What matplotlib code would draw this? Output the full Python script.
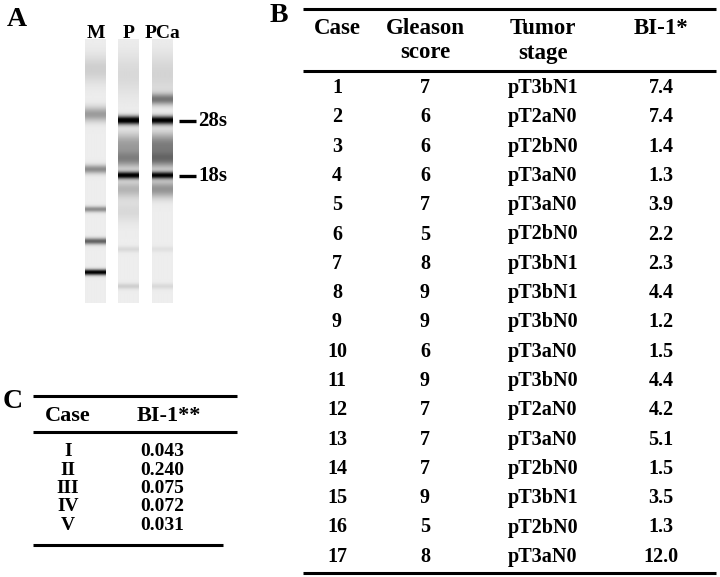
import matplotlib
matplotlib.use("Agg")
import matplotlib.pyplot as plt
import numpy as np

plt.rcParams["font.family"] = ["Liberation Serif", "DejaVu Serif"]
plt.rcParams["font.weight"] = "bold"

# panel A: capillary gel lanes (band centre in px from top, darkness, spread)
lane_names = ["M", "P", "PCa"]
m_centres = [70, 115, 170, 210, 242, 273]
m_dark = [0.12, 0.32, 0.38, 0.38, 0.55, 0.95]
m_width = [10, 5, 3, 2, 2.2, 2]
p_centres = [75, 121, 145, 160, 176, 190, 212, 250, 287]
p_dark = [0.08, 1.0, 0.3, 0.38, 0.95, 0.22, 0.08, 0.08, 0.12]
p_width = [15, 3, 8, 6, 2.5, 6, 8, 2, 2]
pca_centres = [75, 100, 121, 145, 160, 176, 190, 250, 287]
pca_dark = [0.1, 0.45, 0.95, 0.42, 0.45, 0.9, 0.35, 0.05, 0.08]
pca_width = [15, 4, 3, 8, 6, 2.5, 6, 2, 2]
marker_names = ["28s", "18s"]
marker_pos = [121, 176]

# panel B
cases = [str(i) for i in range(1, 18)]
gleason = ["7", "6", "6", "6", "7", "5", "8", "9", "9", "6", "9", "7", "7", "7", "9", "5", "8"]
stage = ["pT3bN1", "pT2aN0", "pT2bN0", "pT3aN0", "pT3aN0", "pT2bN0", "pT3bN1",
         "pT3bN1", "pT3bN0", "pT3aN0", "pT3bN0", "pT2aN0", "pT3aN0", "pT2bN0",
         "pT3bN1", "pT2bN0", "pT3aN0"]
bi1 = ["7.4", "7.4", "1.4", "1.3", "3.9", "2.2", "2.3", "4.4", "1.2", "1.5",
       "4.4", "4.2", "5.1", "1.5", "3.5", "1.3", "12.0"]
b_headers = ["Case", "Gleason\nscore", "Tumor\nstage", "BI-1*"]

# panel C
c_cases = ["I", "II", "III", "IV", "V"]
c_bi1 = ["0.043", "0.240", "0.075", "0.072", "0.031"]


def lane_profile(ys, centres, dark, width, base=0.07):
    d = np.full_like(ys, base, dtype=float)
    for c, a, w in zip(centres, dark, width):
        d += a * np.exp(-0.5 * ((ys - c) / w) ** 2)
    return 1 - np.clip(d, 0, 1)


fig = plt.figure(figsize=(7.2, 5.77), dpi=100)
ax = fig.add_axes([0, 0, 1, 1])
ax.set_xlim(0, 720)
ax.set_ylim(577, 0)
ax.axis("off")

# ---- A ----
ax.text(7, 19, "A", fontsize=20, ha="left", va="center")
ys = np.arange(40, 304, 0.5)
lanes = [(m_centres, m_dark, m_width), (p_centres, p_dark, p_width),
         (pca_centres, pca_dark, pca_width)]
lane_x = [85, 118, 152]
for name, x0, (c, d, w) in zip(lane_names, lane_x, lanes):
    prof = lane_profile(ys, c, d, w)
    img = np.tile(prof[:, None], (1, 10))
    ax.imshow(img, cmap="gray", vmin=0, vmax=1, aspect="auto",
              extent=(x0, x0 + 21, ys[-1], ys[0]), interpolation="bilinear")
    ax.text(x0 + 10.5, 33, name, fontsize=14, ha="center", va="center")
for name, y in zip(marker_names, marker_pos):
    ax.plot([179, 196], [y, y], color="black", lw=2.4, solid_capstyle="butt")
    ax.text(198, y, name, fontsize=15, ha="left", va="center")

# ---- B ----
ax.text(270, 15, "B", fontsize=20, ha="left", va="center")
b_cols = [337, 425, 543, 661]
for x, h in zip(b_cols, b_headers):
    for k, part in enumerate(h.split("\n")):
        ax.text(x, 29 + 24 * k, part, fontsize=16.5, ha="center", va="center")
for y in [9, 71, 573]:
    ax.plot([303, 716], [y, y], color="black", lw=2.2, solid_capstyle="butt")
row_y = 88 + 29.3 * np.arange(len(cases))
for y, a, g, s, v in zip(row_y, cases, gleason, stage, bi1):
    for x, t in zip(b_cols, [a, g, s, v]):
        ax.text(x, y, t, fontsize=14.5, ha="center", va="center")

# ---- C ----
ax.text(3, 401, "C", fontsize=20, ha="left", va="center")
ax.plot([33, 237], [396, 396], color="black", lw=2.2, solid_capstyle="butt")
ax.plot([33, 237], [432, 432], color="black", lw=2.2, solid_capstyle="butt")
ax.plot([33, 223], [545, 545], color="black", lw=2.2, solid_capstyle="butt")
ax.text(68, 416, "Case", fontsize=16, ha="center", va="center")
ax.text(169, 416, "BI-1**", fontsize=16, ha="center", va="center")
c_y = 452 + 18.3 * np.arange(len(c_cases))
for y, a, v in zip(c_y, c_cases, c_bi1):
    ax.text(68, y, a, fontsize=14, ha="center", va="center")
    ax.text(162, y, v, fontsize=14, ha="center", va="center")

fig.savefig("out.png", dpi=100)
